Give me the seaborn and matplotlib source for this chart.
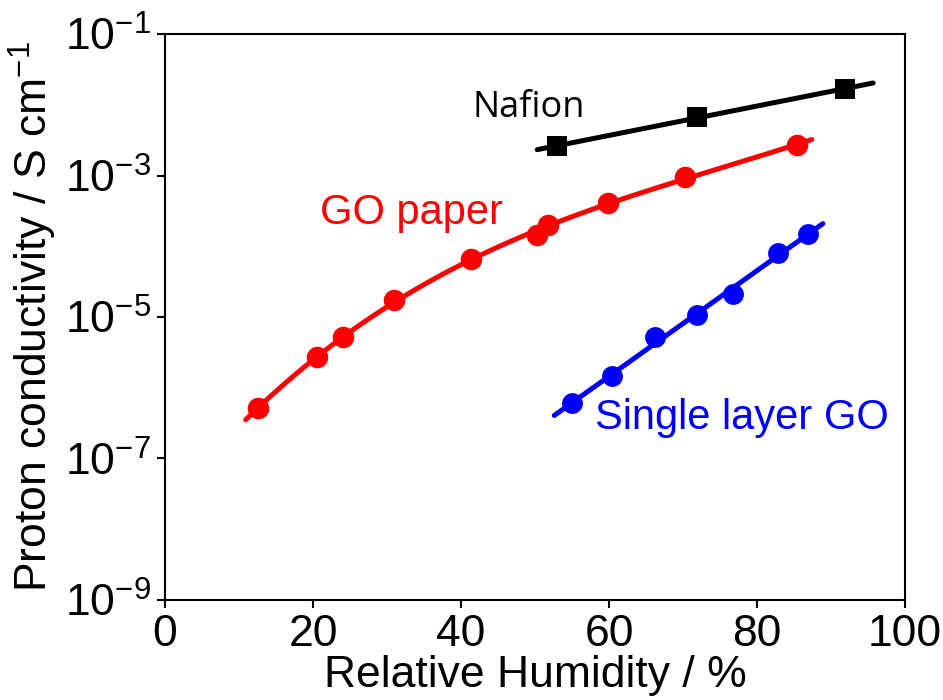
import numpy as np
import pandas as pd
import matplotlib
matplotlib.use("Agg")
import matplotlib.pyplot as plt
import seaborn as sns

# ---- data ----
nafion_rh = [53.0, 71.9, 91.9]
nafion_sigma = [2.6e-3, 6.7e-3, 1.67e-2]

gopaper_rh = [12.6, 20.6, 24.0, 31.0, 41.3, 50.3, 51.8, 59.8, 70.3, 85.4]
gopaper_sigma = [5.2e-7, 2.7e-6, 5.2e-6, 1.74e-5, 6.6e-5, 1.44e-4, 2.0e-4, 4.05e-4, 9.5e-4, 2.7e-3]

single_rh = [55.0, 60.4, 66.2, 71.9, 76.7, 82.8, 86.9]
single_sigma = [6.0e-7, 1.47e-6, 5.2e-6, 1.07e-5, 2.1e-5, 8.1e-5, 1.49e-4]

# fit-line ranges (x extent of the drawn fit curves)
nafion_fit_range = [50.3, 95.7]
gopaper_fit_range = [10.9, 87.4]
single_fit_range = [52.6, 88.9]

xticks = [0, 20, 40, 60, 80, 100]
yticks_exp = [-1, -3, -5, -7, -9]

sns.set_style("ticks")
plt.rcParams["font.family"] = ["Liberation Sans", "DejaVu Sans"]
plt.rcParams["mathtext.fontset"] = "custom"
plt.rcParams["mathtext.rm"] = "Liberation Sans"
plt.rcParams["mathtext.it"] = "Liberation Sans:italic"
plt.rcParams["mathtext.bf"] = "Liberation Sans:bold"
for k in ["text.color", "axes.labelcolor", "xtick.color", "ytick.color", "axes.edgecolor"]:
    plt.rcParams[k] = "black"

fig = plt.figure(figsize=(9.43, 7.0), dpi=100)
ax = fig.add_axes([0.175, 0.1429, 0.7847, 0.8085])


def fit_curve(x, y, deg, rng):
    p = np.polyfit(x, np.log10(y), deg)
    xs = np.linspace(rng[0], rng[1], 200)
    return pd.DataFrame({"x": xs, "y": 10 ** np.polyval(p, xs)})


series = [
    (nafion_rh, nafion_sigma, 1, nafion_fit_range, "black", "s", 14),
    (gopaper_rh, gopaper_sigma, 3, gopaper_fit_range, "#ff0000", "o", 15.5),
    (single_rh, single_sigma, 1, single_fit_range, "#0000ff", "o", 15),
]

for x, y, deg, rng, col, mk, ms in series:
    fit = fit_curve(x, y, deg, rng)
    sns.lineplot(data=fit, x="x", y="y", ax=ax, color=col, lw=3.6, sort=False, zorder=2)
    pts = pd.DataFrame({"x": x, "y": y})
    sns.scatterplot(data=pts, x="x", y="y", ax=ax, color=col, marker=mk,
                    s=ms ** 2, linewidth=0, zorder=3)

ax.set_yscale("log")
ax.set_xlim(0, 100)
ax.set_ylim(1e-9, 1e-1)
ax.set_xticks(xticks)
ax.set_xticklabels([str(t) for t in xticks])
ax.set_yticks([10.0 ** e for e in yticks_exp])
ax.set_yticklabels([r"$\mathregular{10^{%d}}$" % e for e in yticks_exp])
ax.yaxis.set_minor_locator(matplotlib.ticker.NullLocator())
ax.tick_params(axis="both", which="major", labelsize=32, length=6, width=1.5,
               direction="out", pad=4, colors="black")
for s in ax.spines.values():
    s.set_linewidth(1.5)
    s.set_color("black")
    s.set_visible(True)

ax.set_xlabel("Relative Humidity / %", fontsize=32, labelpad=0)
ax.set_ylabel(r"Proton conductivity / S $\mathregular{cm^{-1}}$", fontsize=32, labelpad=4)

ax.text(41.5, 9.0e-3, "Nafion", fontsize=26, color="black", ha="left", va="center",
        family=["Open Sans", "DejaVu Sans"])
ax.text(20.9, 2.95e-4, "GO paper", fontsize=30, color="#ff0000", ha="left", va="center")
ax.text(58.1, 3.7e-7, "Single layer GO", fontsize=30, color="#0000ff", ha="left", va="center")

fig.savefig("out.png", dpi=100)
